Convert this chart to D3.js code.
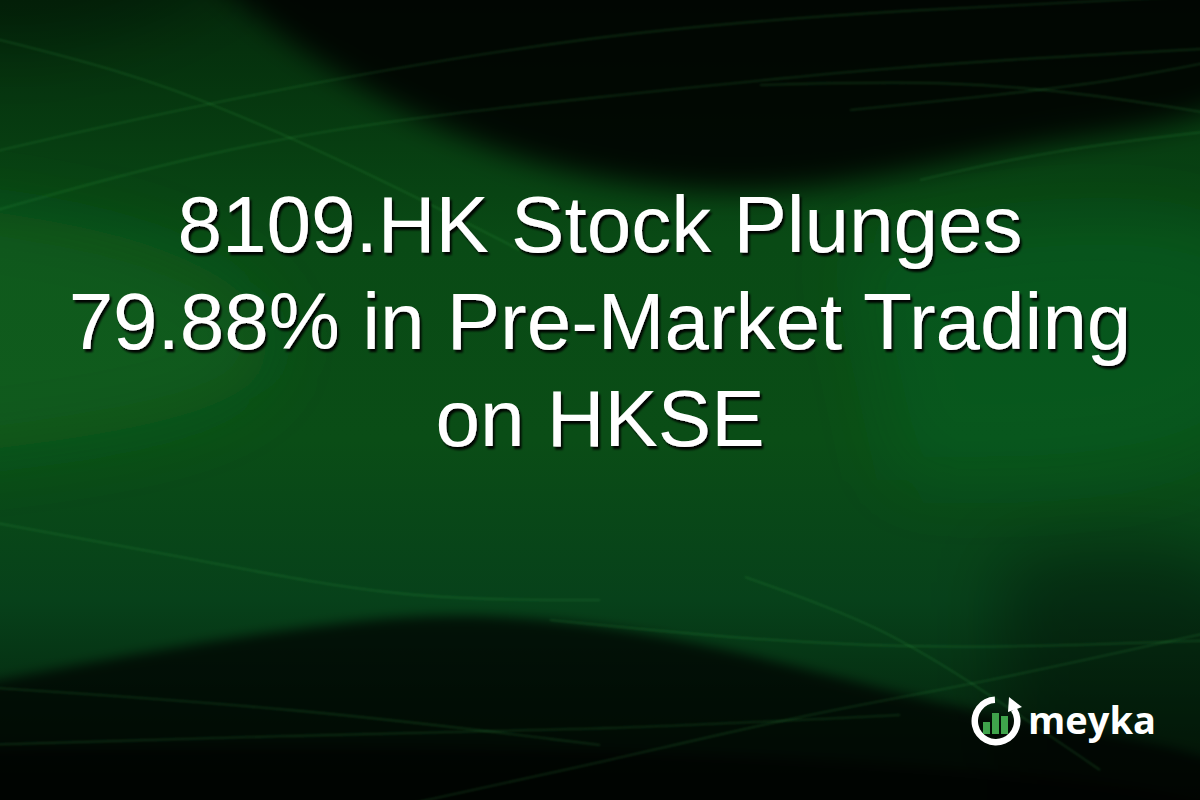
<!DOCTYPE html>
<html><head><meta charset="utf-8">
<script src="https://cdn.jsdelivr.net/npm/d3@7"></script>
<style>html,body{margin:0;padding:0;background:#000;overflow:hidden}</style>
</head><body>
<script>
const titleLines = ["8109.HK Stock Plunges", "79.88% in Pre-Market Trading", "on HKSE"];
const brandName = "meyka";
const logoBars = [12, 21, 18];

const W = 1200, H = 800;
const svg = d3.select("body").append("svg").attr("width", W).attr("height", H);
const defs = svg.append("defs");

function filt(id, sd){
  const f = defs.append("filter").attr("id",id).attr("filterUnits","userSpaceOnUse")
    .attr("x",-200).attr("y",-200).attr("width",W+400).attr("height",H+400);
  f.append("feGaussianBlur").attr("stdDeviation",sd);
}
filt("blurL", 35); filt("blurM", 14); filt("blurS", 1.2); filt("blurG", 6);

// base gradient
const lg = defs.append("linearGradient").attr("id","base").attr("x1",0).attr("y1",0).attr("x2",0).attr("y2",1);
[[0,"#042a0b"],[0.3,"#094a15"],[0.55,"#0a4d16"],[0.75,"#07411a"],[1,"#031a08"]].forEach(s=>lg.append("stop").attr("offset",s[0]).attr("stop-color",s[1]));
svg.append("rect").attr("width",W).attr("height",H).attr("fill","url(#base)");

const line = d3.line().curve(d3.curveBasis);

// bright glows
const glowAreas = [
  {pts:[[-100,200],[150,230],[300,320],[250,420],[-100,460]], op:0.35},
  {pts:[[850,250],[1300,180],[1300,480],[900,480]], op:0.25}
];
glowAreas.forEach(a=>svg.append("path").attr("d",line(a.pts)+"Z").attr("fill","#12762a")
  .attr("fill-opacity",a.op).attr("filter","url(#blurL)"));

// dark regions
const darkAreas = [
  {pts:[[150,-80],[300,60],[480,150],[620,185],[760,195],[900,175],[1050,140],[1300,110],[1300,-80]], op:0.85, f:"blurM"},
  {pts:[[-100,-80],[-100,60],[150,40],[300,-80]], op:0.3, f:"blurL"},
  {pts:[[-100,700],[150,650],[350,620],[480,612],[650,630],[850,680],[1000,720],[1300,760],[1300,900],[-100,900]], op:0.7, f:"blurG"},
  {pts:[[-100,750],[300,745],[700,750],[1300,790],[1300,900],[-100,900]], op:0.55, f:"blurG"},
  {pts:[[1000,560],[1300,520],[1300,900],[1000,900]], op:0.35, f:"blurL"}
];
darkAreas.forEach(a=>svg.append("path").attr("d",line(a.pts)+"Z").attr("fill","#000")
  .attr("fill-opacity",a.op).attr("filter",`url(#${a.f})`));

// thin light streaks
const streaks = [
  [[-20,35],[120,70],[230,110],[383,180],[520,250]],
  [[-20,155],[230,97],[600,32],[900,10],[1220,-5]],
  [[-20,215],[268,133],[600,97],[900,65],[1220,48]],
  [[760,85],[950,80],[1100,95],[1220,115]],
  [[850,110],[1000,95],[1120,80],[1220,60]],
  [[920,180],[1050,150],[1220,130]],
  [[745,577],[880,625],[983,690],[1100,770]],
  [[380,810],[600,763],[800,715],[983,683],[1220,630]],
  [[-20,687],[300,708],[600,745]],
  [[-20,745],[300,735],[600,730],[900,715]],
  [[550,620],[750,640],[950,650],[1220,640]],
  [[-20,520],[200,560],[400,600],[600,600]]
];
streaks.forEach(p=>svg.append("path").attr("d",line(p)).attr("fill","none")
  .attr("stroke","#3fb34f").attr("stroke-opacity",0.22).attr("stroke-width",1.6).attr("filter","url(#blurS)"));

// title
const shadow = defs.append("filter").attr("id","shadow").attr("x","-5%").attr("y","-20%").attr("width","110%").attr("height","140%");
shadow.append("feDropShadow").attr("dx",2).attr("dy",3).attr("stdDeviation",1.0).attr("flood-color","#000").attr("flood-opacity",0.95);

const y = d3.scalePoint().domain(d3.range(titleLines.length)).range([252, 446]);
svg.append("g").attr("filter","url(#shadow)").selectAll("text").data(titleLines).join("text")
  .attr("x", W/2).attr("y",(d,i)=>y(i)).attr("text-anchor","middle")
  .attr("font-family","'Liberation Sans', Arial, sans-serif").attr("font-size",80)
  .attr("fill","#fff").text(d=>d);

// logo
const logo = svg.append("g").attr("transform","translate(996,721)");
const arc = d3.arc().innerRadius(18).outerRadius(24.5).startAngle(1.0).endAngle(2*Math.PI - 0.05);
logo.append("path").attr("d",arc()).attr("fill","#fff");
logo.append("path").attr("d","M 13 -24 L 26 -14 L 12 -9 Z").attr("fill","#fff");
const bx = d3.scaleBand().domain(d3.range(logoBars.length)).range([-13,12]).paddingInner(0.22);
const bh = d3.scaleLinear().domain([0,24]).range([0,24]);
logo.selectAll("rect.bar").data(logoBars).join("rect").attr("class","bar")
  .attr("x",(d,i)=>bx(i)).attr("width",bx.bandwidth())
  .attr("y",d=>13-bh(d)).attr("height",d=>bh(d)).attr("fill","#3fa44b");
svg.append("text").attr("x",1028).attr("y",734).attr("font-family","'Open Sans', 'Liberation Sans', sans-serif")
  .attr("font-weight",700).attr("font-size",38).attr("fill","#fff").text(brandName);
</script>
</body></html>
